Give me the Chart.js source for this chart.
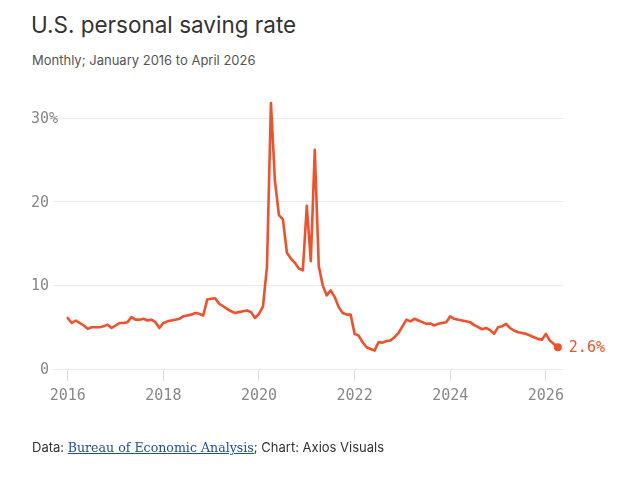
<!DOCTYPE html>
<html>
<head>
<meta charset="utf-8">
<script src="https://cdn.jsdelivr.net/npm/chart.js@4"></script>
<style>
  html, body { margin: 0; padding: 0; background: #fff; }
  body { width: 633px; height: 481px; position: relative; overflow: hidden; font-family: Inter, "Noto Sans", sans-serif; }
  #title { position: absolute; left: 31px; top: 11px; font-size: 22.5px; color: #333; }
  #subtitle { position: absolute; left: 32px; top: 52px; font-size: 13px; color: #555; }
  #footer { position: absolute; left: 32px; top: 439px; font-size: 13px; color: #333; }
  #footer a { font-family: "DejaVu Serif", "Liberation Serif", serif; color: #1f4fa3; text-decoration: underline; font-size: 12.6px; }
  #wrap { position: absolute; left: 0; top: 0; width: 633px; height: 481px; }
</style>
</head>
<body>
<div id="title">U.S. personal saving rate</div>
<div id="subtitle">Monthly; January 2016 to April 2026</div>
<div id="wrap"><canvas id="c"></canvas></div>
<div id="footer">Data: <a>Bureau of Economic Analysis</a>; Chart: Axios Visuals</div>
<script>
// Monthly personal saving rate, %, January 2016 .. April 2026
const startYear = 2016;
const rate2016 = [6.1, 5.5, 5.8, 5.5, 5.2, 4.8, 5.0, 5.0, 5.0, 5.1, 5.3, 4.9];
const rate2017 = [5.2, 5.5, 5.5, 5.6, 6.2, 5.9, 5.9, 6.0, 5.8, 5.9, 5.6, 4.9];
const rate2018 = [5.5, 5.7, 5.8, 5.9, 6.0, 6.3, 6.4, 6.5, 6.7, 6.6, 6.4, 8.3];
const rate2019 = [8.4, 8.45, 7.8, 7.5, 7.2, 6.9, 6.7, 6.8, 6.9, 7.0, 6.8, 6.1];
const rate2020 = [6.6, 7.5, 12.2, 31.8, 22.5, 18.4, 17.9, 13.9, 13.2, 12.7, 12.0, 11.8];
const rate2021 = [19.5, 12.9, 26.2, 12.3, 10.0, 8.8, 9.4, 8.6, 7.4, 6.7, 6.5, 6.5];
const rate2022 = [4.2, 4.0, 3.2, 2.6, 2.4, 2.2, 3.2, 3.15, 3.35, 3.4, 3.8, 4.3];
const rate2023 = [5.1, 5.9, 5.7, 6.0, 5.8, 5.6, 5.4, 5.45, 5.2, 5.4, 5.5, 5.6];
const rate2024 = [6.3, 6.0, 5.9, 5.8, 5.7, 5.6, 5.25, 5.0, 4.75, 4.9, 4.65, 4.2];
const rate2025 = [5.0, 5.1, 5.4, 4.9, 4.6, 4.4, 4.3, 4.2, 4.0, 3.8, 3.6, 3.5];
const rate2026 = [4.2, 3.4, 3.0, 2.6];
const values = [].concat(rate2016, rate2017, rate2018, rate2019, rate2020, rate2021,
                         rate2022, rate2023, rate2024, rate2025, rate2026);
const yearTicks = [2016, 2018, 2020, 2022, 2024, 2026];
const yTicks = [0, 10, 20, 30];
const endLabel = "2.6%";

const points = values.map((v, i) => ({ x: i, y: v }));
const last = values.length - 1;
const ORANGE = "#f0512a";
const MONO = '"DejaVu Sans Mono", "Liberation Mono", monospace';

const labelsPlugin = {
  id: "labels",
  afterDraw(chart) {
    const ctx = chart.ctx;
    const ys = chart.scales.y;
    ctx.save();
    ctx.font = "15px " + MONO;
    ctx.fillStyle = "#888";
    ctx.textBaseline = "middle";
    yTicks.forEach((v, k) => {
      const py = ys.getPixelForValue(v) + 1;
      ctx.textAlign = "right";
      ctx.fillText(String(v), 49, py);
      if (k === yTicks.length - 1) {
        ctx.textAlign = "left";
        ctx.fillText("%", 49, py);
      }
    });
    const meta = chart.getDatasetMeta(0);
    const pt = meta.data[last];
    ctx.fillStyle = ORANGE;
    ctx.textAlign = "left";
    ctx.fillText(endLabel, pt.x + 11, pt.y + 1);
    ctx.restore();
  }
};

new Chart(document.getElementById("c"), {
  type: "line",
  data: {
    datasets: [{
      data: points,
      borderColor: ORANGE,
      backgroundColor: ORANGE,
      borderWidth: 2.6,
      tension: 0,
      pointRadius: (c) => (c.dataIndex === last ? 4 : 0),
      pointHoverRadius: 0,
      pointBorderWidth: 0,
      borderJoinStyle: "round",
      borderCapStyle: "round"
    }]
  },
  options: {
    responsive: true,
    maintainAspectRatio: false,
    animation: false,
    events: [],
    layout: { padding: { left: 53, right: 70, top: 93, bottom: 72 } },
    plugins: { legend: { display: false }, tooltip: { enabled: false } },
    scales: {
      x: {
        type: "linear",
        min: -3.7,
        max: 124.3,
        afterBuildTicks: (s) => { s.ticks = yearTicks.map(y => ({ value: (y - startYear) * 12 })); },
        afterFit: (s) => { s.height = 40; },
        border: { display: false },
        grid: { drawOnChartArea: false, drawTicks: true, tickLength: 12, color: "#dcdcdc", lineWidth: 1 },
        ticks: {
          padding: 6,
          color: "#888",
          font: { family: MONO, size: 15 },
          maxRotation: 0,
          autoSkip: false,
          callback: (v) => String(startYear + v / 12)
        }
      },
      y: {
        min: 0,
        max: 33,
        afterBuildTicks: (s) => { s.ticks = yTicks.map(v => ({ value: v })); },
        afterFit: (s) => { s.width = 0; },
        border: { display: false },
        grid: { drawTicks: false, color: "#ebebeb", lineWidth: 1 },
        ticks: { display: false }
      }
    }
  },
  plugins: [labelsPlugin]
});
</script>
</body>
</html>
